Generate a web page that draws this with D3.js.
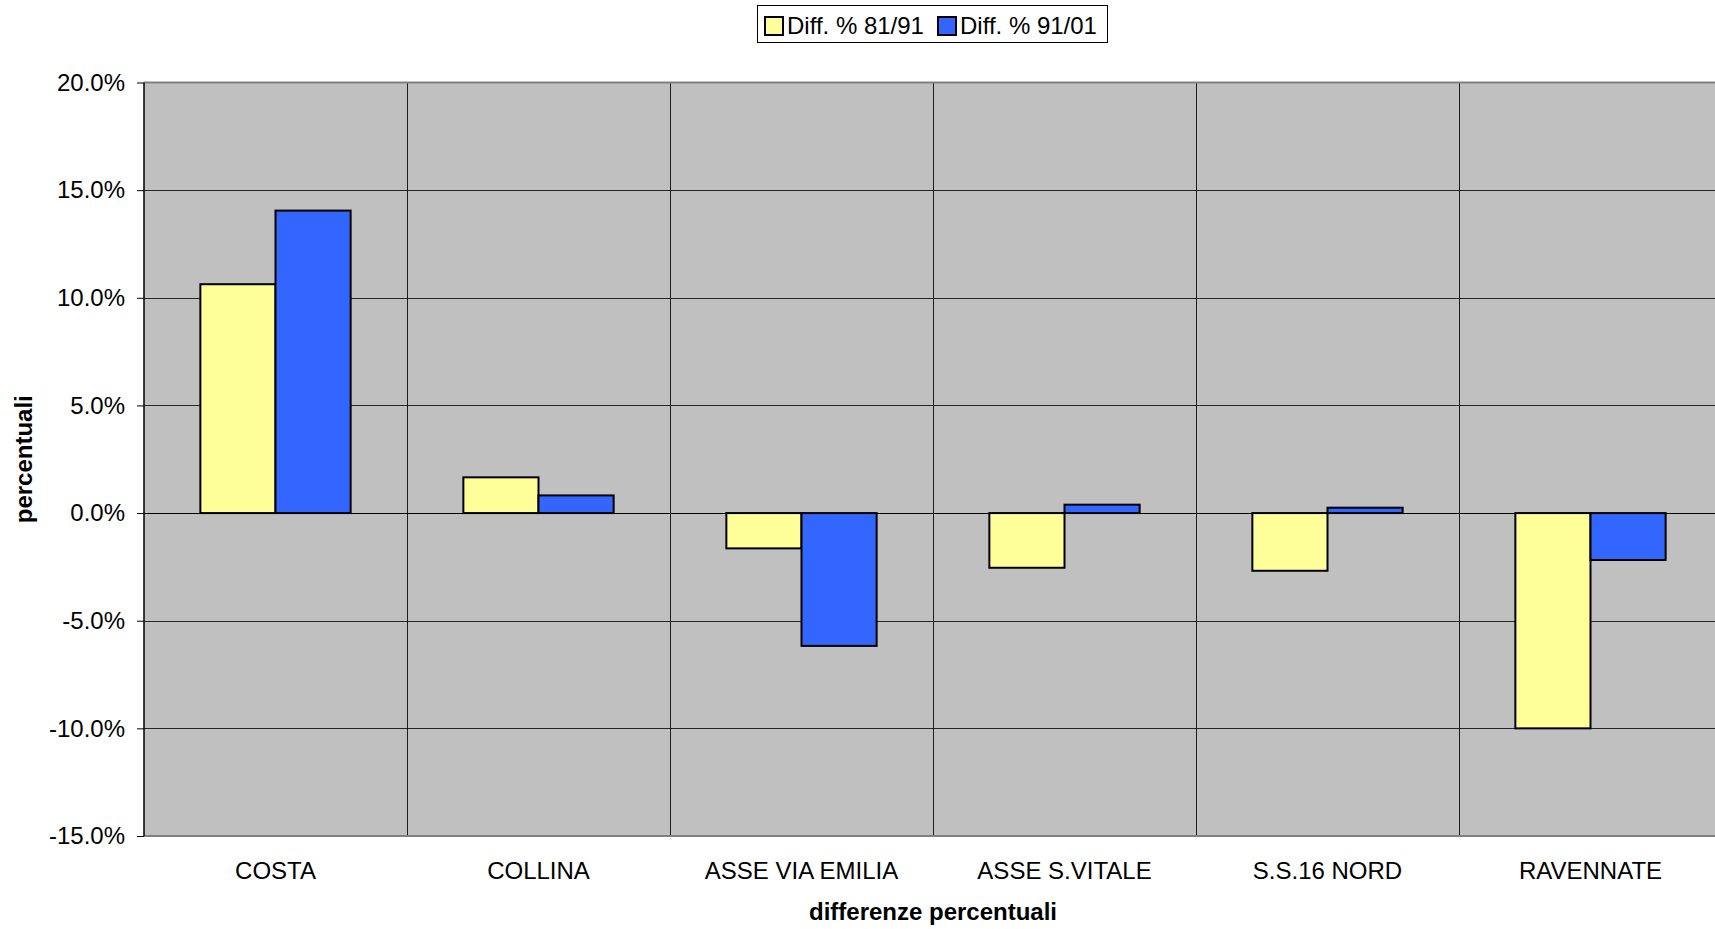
<!DOCTYPE html>
<html>
<head>
<meta charset="utf-8">
<script src="https://cdn.jsdelivr.net/npm/d3@7"></script>
<style>
  html, body { margin: 0; padding: 0; background: #fff; }
  svg { display: block; }
  text { font-family: "Liberation Sans", Arial, sans-serif; fill: #000; }
</style>
</head>
<body>
<svg id="chart" width="1715" height="929"></svg>
<script>
// Zones and percentage differences between census years
const categories = ["COSTA", "COLLINA", "ASSE VIA EMILIA", "ASSE S.VITALE", "S.S.16 NORD", "RAVENNATE"];
const seriesNames = ["Diff. % 81/91", "Diff. % 91/01"];
const diff8191 = [10.63, 1.66, -1.64, -2.54, -2.68, -10.0];
const diff9101 = [14.05, 0.82, -6.17, 0.39, 0.25, -2.18];
const seriesColors = ["#FFFF99", "#3366FF"];
const yTicks = [-15, -10, -5, 0, 5, 10, 15, 20];

const seriesValues = [diff8191, diff9101];

const svg = d3.select("#chart");
const plot = { left: 144, top: 82.5, right: 1722, bottom: 836 };

const y = d3.scaleLinear().domain([-15, 20]).range([plot.bottom, plot.top]);
const x0 = d3.scaleBand().domain(categories).range([plot.left, plot.right]).paddingInner(0).paddingOuter(0);
const bw = x0.bandwidth();
const gap = bw * 1.5 / 3.5;
const x1 = d3.scaleBand().domain(seriesNames).range([gap / 2, bw - gap / 2]).padding(0);

// plot background
svg.append("rect")
  .attr("x", plot.left).attr("y", plot.top)
  .attr("width", plot.right - plot.left).attr("height", plot.bottom - plot.top)
  .attr("fill", "#C0C0C0");

// horizontal gridlines
svg.append("g")
  .selectAll("line")
  .data(yTicks.filter(t => t !== -15 && t !== 20))
  .join("line")
  .attr("x1", plot.left).attr("x2", plot.right)
  .attr("y1", d => Math.round(y(d)) + 0.5).attr("y2", d => Math.round(y(d)) + 0.5)
  .attr("stroke", "#000").attr("stroke-width", 1).attr("stroke-opacity", 0.8);

// vertical gridlines at category boundaries
svg.append("g")
  .selectAll("line")
  .data(categories.slice(1))
  .join("line")
  .attr("x1", d => Math.round(x0(d)) + 0.5).attr("x2", d => Math.round(x0(d)) + 0.5)
  .attr("y1", plot.top).attr("y2", plot.bottom)
  .attr("stroke", "#000").attr("stroke-width", 1).attr("stroke-opacity", 0.85);

// plot frame: top and bottom edges
svg.append("line")
  .attr("x1", plot.left).attr("x2", plot.right)
  .attr("y1", plot.top).attr("y2", plot.top)
  .attr("stroke", "#808080").attr("stroke-width", 2);
svg.append("line")
  .attr("x1", plot.left).attr("x2", plot.right)
  .attr("y1", plot.bottom).attr("y2", plot.bottom)
  .attr("stroke", "#808080").attr("stroke-width", 2);

// bars
const groups = svg.append("g")
  .selectAll("g")
  .data(categories)
  .join("g")
  .attr("transform", d => `translate(${x0(d)},0)`);

groups.selectAll("rect")
  .data((d, i) => seriesNames.map((s, j) => ({ s, v: seriesValues[j][i], c: seriesColors[j] })))
  .join("rect")
  .attr("x", d => x1(d.s))
  .attr("width", x1.bandwidth())
  .attr("y", d => y(Math.max(0, d.v)))
  .attr("height", d => Math.abs(y(d.v) - y(0)))
  .attr("fill", d => d.c)
  .attr("stroke", "#000")
  .attr("stroke-width", 2);

// zero line
svg.append("line")
  .attr("x1", plot.left).attr("x2", plot.right)
  .attr("y1", Math.round(y(0)) + 0.5).attr("y2", Math.round(y(0)) + 0.5)
  .attr("stroke", "#000").attr("stroke-width", 1);

// y axis
const yAxis = d3.axisLeft(y)
  .tickValues(yTicks)
  .tickSize(7)
  .tickPadding(12)
  .tickFormat(d => d.toFixed(1) + "%");

const yg = svg.append("g")
  .attr("transform", `translate(${plot.left},0)`)
  .call(yAxis);
yg.select(".domain").attr("stroke", "#000").attr("stroke-width", 1.5).attr("d", `M0,${plot.top}V${plot.bottom}`);
yg.selectAll(".tick line").attr("stroke", "#000");
yg.selectAll(".tick text")
  .attr("font-size", 24)
  .attr("font-family", "Liberation Sans, Arial, sans-serif")
  .attr("fill", "#000");

// x axis category labels
const xg = svg.append("g")
  .attr("transform", `translate(0,${plot.bottom})`)
  .call(d3.axisBottom(x0).tickSize(0).tickPadding(0));
xg.select(".domain").remove();
xg.selectAll(".tick text")
  .attr("dy", null)
  .attr("y", 879 - plot.bottom)
  .attr("font-size", 24)
  .attr("font-family", "Liberation Sans, Arial, sans-serif")
  .attr("fill", "#000");

// axis titles
svg.append("text")
  .attr("x", (plot.left + plot.right) / 2)
  .attr("y", 920)
  .attr("text-anchor", "middle")
  .attr("font-size", 24)
  .attr("font-weight", "bold")
  .text("differenze percentuali");

svg.append("text")
  .attr("transform", `translate(32,${(plot.top + plot.bottom) / 2}) rotate(-90)`)
  .attr("text-anchor", "middle")
  .attr("font-size", 24)
  .attr("font-weight", "bold")
  .text("percentuali");

// legend
const legend = svg.append("g");
legend.append("rect")
  .attr("x", 757.5).attr("y", 5.5)
  .attr("width", 350).attr("height", 37)
  .attr("fill", "#fff").attr("stroke", "#000").attr("stroke-width", 1);

const legendX = [765, 938];
seriesNames.forEach((s, i) => {
  legend.append("rect")
    .attr("x", legendX[i]).attr("y", 17)
    .attr("width", 18).attr("height", 18)
    .attr("fill", seriesColors[i])
    .attr("stroke", "#000").attr("stroke-width", 2);
  legend.append("text")
    .attr("x", legendX[i] + 22).attr("y", 34)
    .attr("font-size", 24)
    .text(s);
});
</script>
</body>
</html>
